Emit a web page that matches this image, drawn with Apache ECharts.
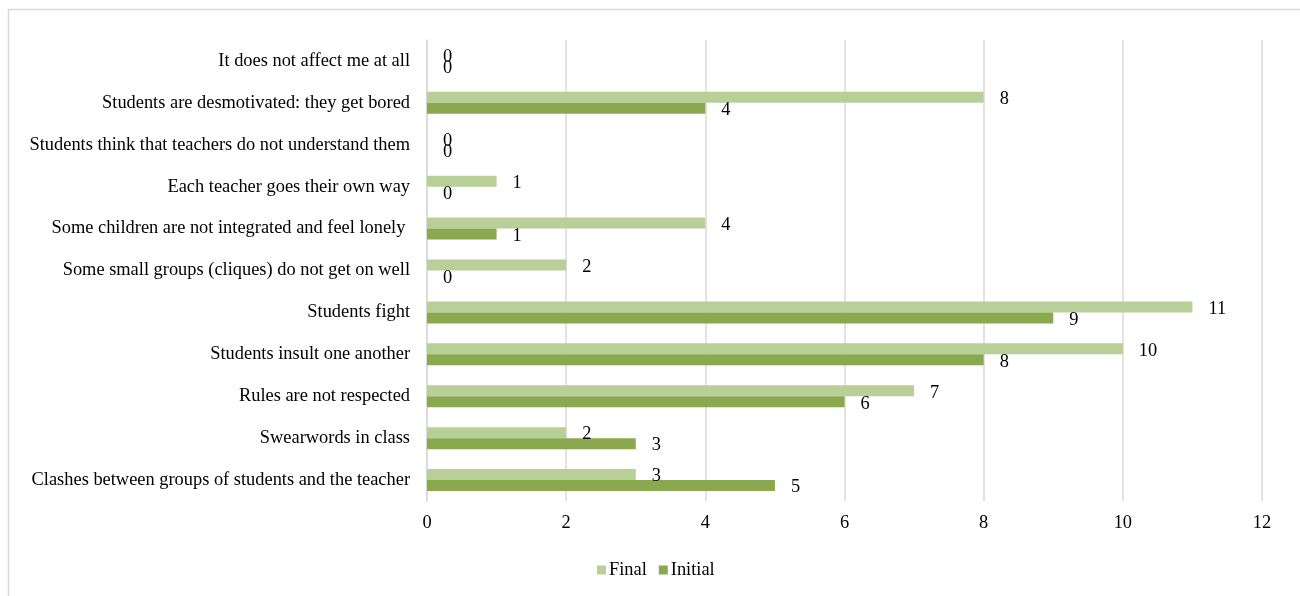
<!DOCTYPE html>
<html>
<head>
<meta charset="utf-8">
<script src="https://cdn.jsdelivr.net/npm/echarts@6/dist/echarts.min.js"></script>
<style>
  html, body { margin: 0; padding: 0; background: #fff; }
  #chart { width: 1300px; height: 596px; }
</style>
</head>
<body>
<div id="chart"></div>
<script>
// Categories, listed bottom to top as the category axis draws them
const categories = [
  'Clashes between groups of students and the teacher',
  'Swearwords in class',
  'Rules are not respected',
  'Students insult one another',
  'Students fight',
  'Some small groups (cliques) do not get on well',
  'Some children are not integrated and feel lonely ',
  'Each teacher goes their own way',
  'Students think that teachers do not understand them',
  'Students are desmotivated: they get bored',
  'It does not affect me at all'
];
const finalValues   = [3, 2, 7, 10, 11, 2, 4, 1, 0, 8, 0];
const initialValues = [5, 3, 6, 8, 9, 0, 1, 0, 0, 4, 0];
const xTicks = { min: 0, max: 12, interval: 2 };

const FONT = '"Liberation Serif", "Times New Roman", serif';
const FONT_SIZE = 18.4;
const labelStyle = {
  show: true,
  position: 'right',
  distance: 16,
  offset: [0, 2],
  fontFamily: FONT,
  fontSize: FONT_SIZE,
  color: '#000'
};

const chart = echarts.init(document.getElementById('chart'), null, { renderer: 'canvas' });
chart.setOption({
  animation: false,
  textStyle: { fontFamily: FONT },
  graphic: [{
    type: 'rect',
    shape: { x: 8.5, y: 9.5, width: 1300, height: 600 },
    style: { fill: 'none', stroke: '#d9d9d9', lineWidth: 1.5 },
    silent: true
  }],
  grid: { left: 427, right: 38, top: 40, bottom: 95, containLabel: false },
  legend: {
    data: ['Final', 'Initial'],
    bottom: 12,
    left: 592,
    itemWidth: 9,
    itemHeight: 9,
    itemGap: 12,
    icon: 'rect',
    textStyle: { fontFamily: FONT, fontSize: FONT_SIZE, color: '#000', padding: [0, 0, 0, -2] }
  },
  xAxis: {
    type: 'value',
    min: xTicks.min,
    max: xTicks.max,
    interval: xTicks.interval,
    axisLine: { show: false },
    axisTick: { show: false },
    axisLabel: { fontFamily: FONT, fontSize: FONT_SIZE, color: '#000', margin: 13 },
    splitLine: { show: true, lineStyle: { color: '#d9d9d9', width: 1.5 } }
  },
  yAxis: {
    type: 'category',
    data: categories,
    axisLine: { show: true, lineStyle: { color: '#d9d9d9', width: 1.5 } },
    axisTick: { show: false },
    axisLabel: { fontFamily: FONT, fontSize: FONT_SIZE, color: '#000', margin: 17 },
    splitLine: { show: false }
  },
  series: [
    {
      name: 'Final',
      type: 'bar',
      data: finalValues,
      barWidth: 11,
      barGap: '0%',
      itemStyle: { color: '#b9cf98' },
      label: labelStyle
    },
    {
      name: 'Initial',
      type: 'bar',
      data: initialValues,
      barWidth: 11,
      barGap: '0%',
      itemStyle: { color: '#8aa84e' },
      label: labelStyle
    }
  ]
});
</script>
</body>
</html>
